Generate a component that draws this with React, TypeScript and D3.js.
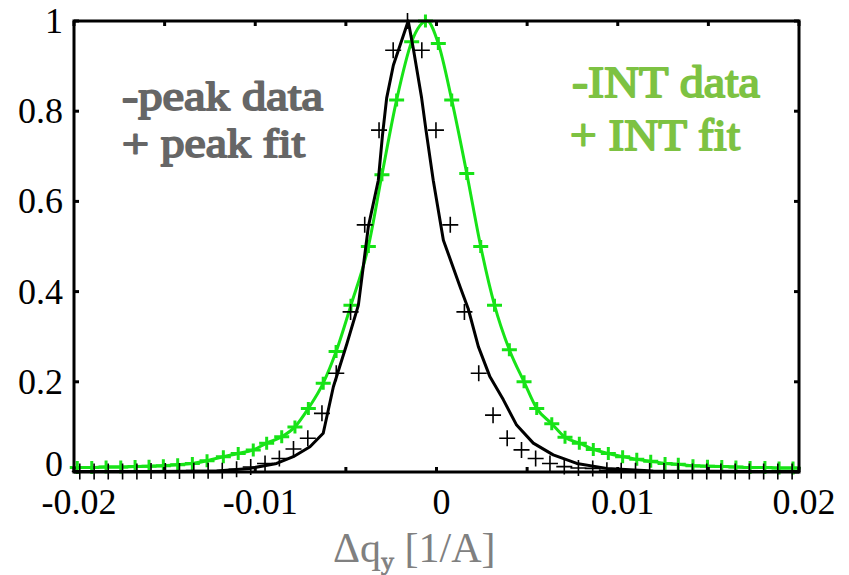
import React from 'react';
import * as d3 from 'd3';

// axis ticks
const xTicks = [-0.02, -0.015, -0.01, -0.005, 0, 0.005, 0.01, 0.015, 0.02];
const xTickLabels = ['-0.02', '', '-0.01', '', '0', '', '0.01', '', '0.02'];
const yTicks = [0, 0.2, 0.4, 0.6, 0.8, 1];
const yTickLabels = ['0', '0.2', '0.4', '0.6', '0.8', '1'];

// black solid line: peak data
const peakDataX = [-0.02, -0.01581, -0.01213, -0.01029, -0.00882, -0.0079, -0.00698, -0.00625, -0.00569, -0.00494,
  -0.00431, -0.00376, -0.00321, -0.00298, -0.00275, -0.00238, -0.00156, -0.00128, -0.00082, -0.00058,
  -0.00018, 0.00038, 0.0013, 0.00175, 0.00231, 0.00295, 0.00369, 0.00442, 0.00534, 0.00644,
  0.00774, 0.00939, 0.01196, 0.02];
const peakDataY = [0.001, 0.001, 0.002, 0.008, 0.019, 0.034, 0.056, 0.086, 0.189, 0.285,
  0.37, 0.544, 0.647, 0.747, 0.829, 0.902, 1.0, 0.939, 0.829, 0.758,
  0.647, 0.514, 0.411, 0.362, 0.278, 0.211, 0.16, 0.104, 0.064, 0.038,
  0.019, 0.008, 0.002, 0.001];

// black crosses: peak fit
const peakFitX = [-0.01968, -0.01889, -0.01811, -0.01732, -0.01653, -0.01575, -0.01496, -0.01418, -0.01339, -0.0126,
  -0.01182, -0.01103, -0.01025, -0.00946, -0.00867, -0.00789, -0.0071, -0.00632, -0.00553, -0.00474,
  -0.00396, -0.00317, -0.00239, -0.0016, -0.00081, -0.00003, 0.00076, 0.00154, 0.00233, 0.00312,
  0.0039, 0.00469, 0.00547, 0.00626, 0.00705, 0.00783, 0.00862, 0.0094, 0.01019, 0.01098,
  0.01176, 0.01255, 0.01333, 0.01412, 0.01491, 0.01569, 0.01648, 0.01726, 0.01805, 0.01883, 0.01962];
const peakFitY = [0.001, 0.001, 0.001, 0.001, 0.001, 0.002, 0.002, 0.002, 0.003, 0.003,
  0.003, 0.006, 0.011, 0.019, 0.03, 0.051, 0.075, 0.13, 0.219, 0.355,
  0.548, 0.758, 0.935, 1.0, 0.935, 0.758, 0.548, 0.355, 0.219, 0.126,
  0.075, 0.049, 0.03, 0.019, 0.012, 0.009, 0.008, 0.004, 0.003, 0.003,
  0.002, 0.002, 0.002, 0.001, 0.001, 0.001, 0.001, 0.001, 0.001, 0.001, 0.001];

// green line: INT data
const intDataX = [-0.02, -0.01982, -0.01902, -0.01823, -0.01742, -0.01663, -0.01586, -0.01507, -0.01428, -0.01347,
  -0.01266, -0.01176, -0.01094, -0.01011, -0.00937, -0.00854, -0.00781, -0.00707, -0.00625, -0.00554,
  -0.00472, -0.00376, -0.00301, -0.0022, -0.00137, -0.00052, 0.0001, 0.00084, 0.00167, 0.00244,
  0.0032, 0.00402, 0.00483, 0.00553, 0.00636, 0.00709, 0.00788, 0.00865, 0.00948, 0.01027,
  0.01105, 0.01182, 0.01261, 0.01334, 0.01415, 0.01495, 0.01574, 0.01652, 0.0173, 0.01812,
  0.0189, 0.01967, 0.02];
const intDataY = [0.01, 0.01, 0.01, 0.011, 0.011, 0.012, 0.013, 0.014, 0.016, 0.019,
  0.025, 0.034, 0.041, 0.049, 0.064, 0.078, 0.1, 0.141, 0.197, 0.267,
  0.37, 0.5, 0.659, 0.825, 0.954, 1.0, 0.95, 0.825, 0.662, 0.5,
  0.37, 0.271, 0.2, 0.141, 0.107, 0.077, 0.064, 0.05, 0.041, 0.034,
  0.028, 0.024, 0.019, 0.017, 0.014, 0.013, 0.012, 0.011, 0.01, 0.01,
  0.009, 0.009, 0.009];

// green crosses: INT fit
const intFitX = [-0.01982, -0.01902, -0.01823, -0.01742, -0.01663, -0.01586, -0.01507, -0.01428, -0.01347, -0.01266,
  -0.01176, -0.01094, -0.01011, -0.00937, -0.00854, -0.00781, -0.00707, -0.00625, -0.00554, -0.00472,
  -0.00376, -0.00301, -0.0022, -0.00137, -0.00061, 0.0001, 0.00084, 0.00167, 0.00244, 0.0032,
  0.00402, 0.00483, 0.00553, 0.00636, 0.00709, 0.00788, 0.00865, 0.00948, 0.01027, 0.01105,
  0.01182, 0.01261, 0.01334, 0.01415, 0.01495, 0.01574, 0.01652, 0.0173, 0.01812, 0.0189, 0.01967];
const intFitY = [0.01, 0.01, 0.011, 0.011, 0.012, 0.013, 0.014, 0.016, 0.019, 0.025,
  0.034, 0.041, 0.049, 0.064, 0.078, 0.1, 0.141, 0.197, 0.267, 0.37,
  0.5, 0.659, 0.825, 0.954, 1.0, 0.95, 0.825, 0.662, 0.5, 0.37,
  0.271, 0.2, 0.141, 0.107, 0.077, 0.064, 0.05, 0.041, 0.034, 0.028,
  0.024, 0.019, 0.017, 0.014, 0.013, 0.012, 0.011, 0.01, 0.01, 0.009, 0.009];

const legendGray = ['-peak data', '+ peak fit'];
const legendGreen = ['-INT data', '+ INT fit'];

const W = 849;
const H = 575;
// 'Liberation Serif' resolves to a sans face here, the Times alias gives the serif one
const FONT = "'Times New Roman', Tinos, serif";
const GREEN = '#17e317';
const GRAY_TXT = '#666666';
const GREEN_TXT = '#7dc242';

function cross(cx: number, cy: number, hw: number, hh: number) {
  return 'M' + (cx - hw) + ',' + cy + 'H' + (cx + hw) + 'M' + cx + ',' + (cy - hh) + 'V' + (cy + hh);
}

export default function App() {
  const plot = { left: 74, right: 799, top: 21, bottom: 472 };

  const x = d3.scaleLinear().domain([-0.02, 0.02]).range([plot.left, plot.right]);
  const y = d3.scaleLinear().domain([0, 1]).range([plot.bottom, plot.top]);

  const makePath = (xs: number[], ys: number[], curve: d3.CurveFactory) =>
    d3.line<number>().x((d) => x(d)).y((d, i) => y(ys[i])).curve(curve)(xs) || '';

  const TICK = 5;
  const txt = { fontFamily: FONT };

  const grayBox = [{ x: 122, y: 110, w: 201 }, { x: 122, y: 157, w: 183 }];
  const greenBox = [{ x: 572, y: 97, w: 188 }, { x: 570, y: 150, w: 170 }];

  return (
    <div style={{ position: 'fixed', left: 0, top: 0 }}>
      <svg width={W} height={H} style={{ display: 'block', background: '#fff' }}>
        {/* green INT data line */}
        <path d={makePath(intDataX, intDataY, d3.curveMonotoneX)} fill="none" stroke={GREEN} strokeWidth={3}
          strokeLinejoin="round" />
        {/* green INT fit markers */}
        <path
          d={intFitX.map((d, i) => cross(x(d), y(intFitY[i]), 7.5, 6.5)).join('')}
          fill="none" stroke={GREEN} strokeWidth={3}
        />
        {/* black peak data line */}
        <path d={makePath(peakDataX, peakDataY, d3.curveLinear)} fill="none" stroke="#000" strokeWidth={3}
          strokeLinejoin="round" />
        {/* black peak fit markers */}
        <path
          d={peakFitX.map((d, i) => cross(x(d), y(peakFitY[i]), 8, 8)).join('')}
          fill="none" stroke="#000" strokeWidth={1.6}
        />

        {/* frame */}
        <rect x={plot.left} y={plot.top} width={plot.right - plot.left} height={plot.bottom - plot.top}
          fill="none" stroke="#000" strokeWidth={3} />

        {/* x ticks (top and bottom, inward) */}
        {xTicks.map((t, i) => (
          <g key={'xt' + i}>
            <line x1={x(t)} x2={x(t)} y1={plot.bottom} y2={plot.bottom - TICK} stroke="#000" strokeWidth={3} />
            <line x1={x(t)} x2={x(t)} y1={plot.top} y2={plot.top + TICK} stroke="#000" strokeWidth={3} />
            {xTickLabels[i] && (
              <text x={x(t) + 5} y={514} textAnchor="middle" style={txt} fontSize={36} fill="#000">
                {xTickLabels[i]}
              </text>
            )}
          </g>
        ))}

        {/* y ticks (left and right, inward) */}
        {yTicks.map((t, i) => (
          <g key={'yt' + i}>
            <line x1={plot.left} x2={plot.left + TICK} y1={y(t)} y2={y(t)} stroke="#000" strokeWidth={3} />
            <line x1={plot.right} x2={plot.right - TICK} y1={y(t)} y2={y(t)} stroke="#000" strokeWidth={3} />
            <text x={63} y={Math.min(y(t) + 12, plot.bottom + 4)} textAnchor="end" style={txt} fontSize={36} fill="#000">
              {yTickLabels[i]}
            </text>
          </g>
        ))}

        {/* x axis title */}
        <text x={333} y={562} style={txt} fontSize={42} fill="#808080">
          Δq
          <tspan fontSize={26} stroke="#808080" strokeWidth={0.8} dy={8}>y</tspan>
          <tspan dy={-8}> [1/A]</tspan>
        </text>

        {/* legends written inside the axes; no bold serif face is installed,
            so the weight comes from an outline in the text colour */}
        {legendGray.map((s, i) => (
          <text key={'lg' + i} x={grayBox[i].x} y={grayBox[i].y} style={txt} fontSize={40}
            textLength={grayBox[i].w} lengthAdjust="spacingAndGlyphs"
            fill={GRAY_TXT} stroke={GRAY_TXT} strokeWidth={1.8} strokeLinejoin="round">
            {s}
          </text>
        ))}
        {legendGreen.map((s, i) => (
          <text key={'lgg' + i} x={greenBox[i].x} y={greenBox[i].y} style={txt} fontSize={45}
            textLength={greenBox[i].w} lengthAdjust="spacingAndGlyphs"
            fill={GREEN_TXT} stroke={GREEN_TXT} strokeWidth={1.8} strokeLinejoin="round">
            {s}
          </text>
        ))}
      </svg>
    </div>
  );
}
